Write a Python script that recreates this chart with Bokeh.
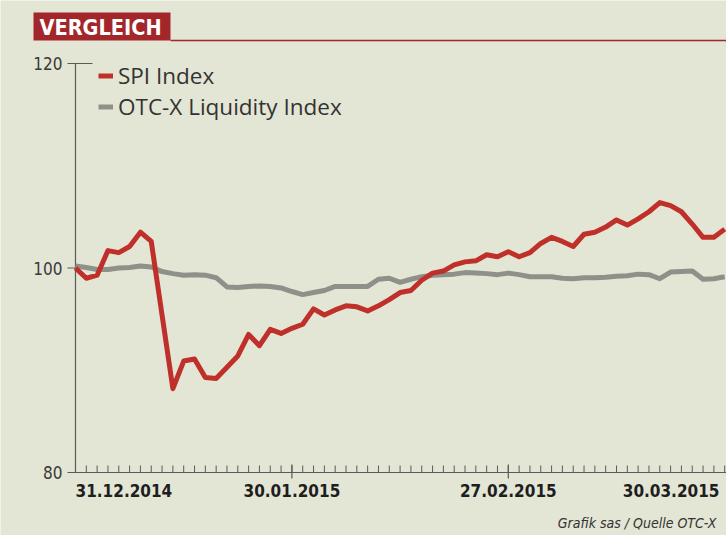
from bokeh.plotting import figure
from bokeh.models import Range1d, Legend, LegendItem, ColumnDataSource
from bokeh.core.properties import value
from bokeh.embed import file_html
from bokeh.resources import INLINE

# ---------------- data ----------------
# trading-day index 0 = 31.12.2014
tick_positions = [0, 20, 40, 60]
tick_labels = ["31.12.2014", "30.01.2015", "27.02.2015", "30.03.2015"]
minor_ticks = list(range(1, 61))
y_ticks = [80, 100, 120]
y_tick_labels = ["80", "100", "120"]

spi = [100.0, 99.0, 99.3, 101.7, 101.5, 102.1, 103.5, 102.6, 95.4, 88.2,
       90.9, 91.1, 89.3, 89.2, 90.3, 91.4, 93.5, 92.4, 94.0, 93.6,
       94.1, 94.5, 96.0, 95.4, 95.9, 96.3, 96.2, 95.8, 96.3, 96.9,
       97.6, 97.8, 98.8, 99.5, 99.7, 100.3, 100.6, 100.7, 101.3, 101.1,
       101.6, 101.1, 101.5, 102.4, 103.0, 102.6, 102.1, 103.3, 103.5, 104.0,
       104.7, 104.2, 104.8, 105.5, 106.4, 106.1, 105.5, 104.3, 103.0, 103.0,
       103.8]
otcx = [100.2, 100.05, 99.85, 99.85, 100.0, 100.05, 100.2, 100.1, 99.65, 99.45,
        99.3, 99.35, 99.3, 99.05, 98.15, 98.1, 98.2, 98.25, 98.2, 98.05,
        97.7, 97.4, 97.6, 97.8, 98.2, 98.2, 98.2, 98.2, 98.9, 99.0,
        98.6, 98.9, 99.15, 99.3, 99.35, 99.4, 99.55, 99.5, 99.45, 99.35,
        99.5, 99.35, 99.15, 99.15, 99.15, 99.0, 98.95, 99.05, 99.05, 99.1,
        99.2, 99.25, 99.4, 99.35, 98.95, 99.6, 99.65, 99.7, 98.9, 98.95,
        99.15]
days = list(range(len(spi)))

series_names = ["SPI Index", "OTC-X Liquidity Index"]
title_text = "VERGLEICH"
source_text = "Grafik sas / Quelle OTC-X"

# ---------------- styling ----------------
PAPER = "#e3e5d5"
RED = "#c0302b"
GRAY = "#8e918a"
DARKRED = "#a3272a"
AXIS = "#5a5a5a"
TXT = "#333333"
COND = "DejaVu Sans Condensed"
SANS = "Open Sans"

W, H = 726, 535
PXX = 10.82    # pixels per trading day
PXY = 10.225   # pixels per index point
AX_LEFT = 75   # pixel column of the y axis (day 0)
AX_BOT = 472   # pixel row of the x axis (value 80)

def xd(px):
    return (px - AX_LEFT) / PXX

def yd(py):
    return 80 + (AX_BOT - py) / PXY

p = figure(width=W, height=H, output_backend="svg", toolbar_location=None,
           x_range=Range1d(xd(0), xd(W)), y_range=Range1d(yd(H), yd(0)),
           x_axis_type=None, y_axis_type=None,
           min_border=0, min_border_left=0, min_border_right=0,
           min_border_top=0, min_border_bottom=0)
p.background_fill_color = PAPER
p.border_fill_color = PAPER
p.outline_line_color = None
p.grid.visible = False

# ---------- title block ----------
p.quad(left=[xd(33)], right=[xd(170)], top=[yd(12)], bottom=[yd(40)],
       fill_color=DARKRED, line_color=None)
p.segment(x0=[xd(170)], x1=[xd(W)], y0=[yd(40)], y1=[yd(40)],
          line_color=DARKRED, line_width=1.5)
p.text(x=[xd(39)], y=[yd(27)], text=[title_text], text_align="left",
       text_baseline="middle", text_font=value(COND), text_font_style="bold",
       text_font_size="21.5px", text_color="white")

# ---------- axes (built from the tick arrays) ----------
y0, y1 = min(y_ticks), max(y_ticks)
p.segment(x0=[0], x1=[0], y0=[y0], y1=[y1], line_color=AXIS, line_width=1.2)
p.segment(x0=[xd(67)] * len(y_ticks), x1=[xd(92)] * len(y_ticks),
          y0=y_ticks, y1=y_ticks, line_color=AXIS, line_width=1.2)
p.text(x=[xd(62)] * len(y_ticks), y=y_ticks, text=y_tick_labels,
       text_align="right", text_baseline="middle", text_font=value(COND),
       text_font_size="17px", text_color="#3a3a3a")

p.segment(x0=[0], x1=[xd(W)], y0=[y0], y1=[y0], line_color=AXIS, line_width=1.2)
p.segment(x0=minor_ticks, x1=minor_ticks, y0=[y0] * len(minor_ticks),
          y1=[y0 + 7 / PXY] * len(minor_ticks), line_color=AXIS, line_width=1)
mid = tick_positions[1:3]
p.segment(x0=mid, x1=mid, y0=[y0 - 6 / PXY] * len(mid),
          y1=[y0 + 8 / PXY] * len(mid), line_color=AXIS, line_width=1.2)

lab_y = yd(483)
lab_style = dict(text_baseline="top", text_font=value(COND),
                 text_font_style="bold", text_font_size="17px",
                 text_color="#1e1e1e")
p.text(x=[tick_positions[0]], y=[lab_y], text=[tick_labels[0]],
       text_align="left", **lab_style)
p.text(x=mid, y=[lab_y] * len(mid), text=tick_labels[1:3],
       text_align="center", **lab_style)
p.text(x=[xd(719)], y=[lab_y], text=[tick_labels[3]],
       text_align="right", **lab_style)

# ---------- series ----------
src = ColumnDataSource(dict(day=days, spi=spi, otcx=otcx))
r_otc = p.line("day", "otcx", source=src, line_color=GRAY, line_width=5,
               line_join="round")
r_spi = p.line("day", "spi", source=src, line_color=RED, line_width=5,
               line_join="round")

# ---------- legend ----------
legend = Legend(items=[LegendItem(label=series_names[0], renderers=[r_spi]),
                       LegendItem(label=series_names[1], renderers=[r_otc])],
                location=(98, 413), orientation="vertical",
                glyph_width=15, glyph_height=31, label_height=31,
                label_standoff=5, spacing=0, padding=0, margin=0,
                background_fill_alpha=0, border_line_alpha=0,
                label_text_font=SANS, label_text_font_size="22.5px",
                label_text_color=TXT)
p.add_layout(legend)

# ---------- source note ----------
p.text(x=[xd(716)], y=[yd(522)], text=[source_text], text_align="right",
       text_baseline="middle", text_font=value(COND),
       text_font_style="italic", text_font_size="14px", text_color=TXT)

open("out.html", "w").write(file_html(p, INLINE))
